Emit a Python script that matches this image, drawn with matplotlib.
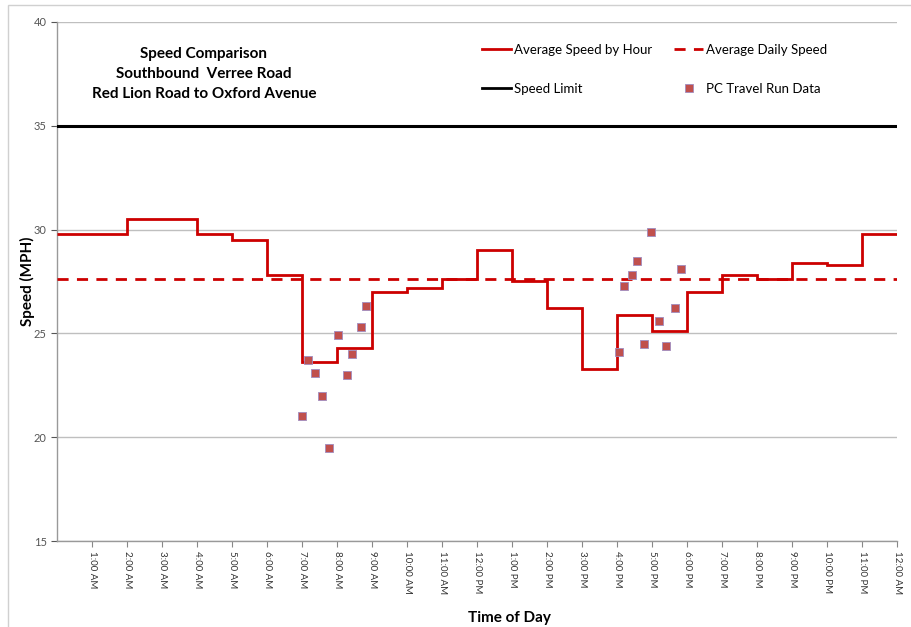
import matplotlib
matplotlib.use("Agg")
import matplotlib.pyplot as plt
from matplotlib.lines import Line2D
from matplotlib.patches import Rectangle

plt.rcParams['font.family'] = ['Lato', 'DejaVu Sans']

# Hourly average speeds (hour 0..23), step drawn over each hour
hours = list(range(25))
hourly_speed = [29.8, 29.8, 30.5, 30.5, 29.8, 29.5, 27.8, 23.6, 24.3, 27.0,
                27.2, 27.6, 29.0, 27.5, 26.2, 23.3, 25.9, 25.1, 27.0, 27.8,
                27.6, 28.4, 28.3, 29.8]
daily_avg = 27.6
speed_limit = 35

# PC travel run data (hour of day, speed)
run_hours = [7.0, 7.17, 7.37, 7.56, 7.75, 8.02, 8.27, 8.42, 8.67, 8.82,
             16.04, 16.19, 16.42, 16.57, 16.77, 16.96, 17.18, 17.38, 17.66, 17.82]
run_speeds = [21.0, 23.7, 23.1, 22.0, 19.5, 24.9, 23.0, 24.0, 25.3, 26.3,
              24.1, 27.3, 27.8, 28.5, 24.5, 29.9, 25.6, 24.4, 26.2, 28.1]

tick_labels = ["1:00 AM", "2:00 AM", "3:00 AM", "4:00 AM", "5:00 AM", "6:00 AM",
               "7:00 AM", "8:00 AM", "9:00 AM", "10:00 AM", "11:00 AM", "12:00 PM",
               "1:00 PM", "2:00 PM", "3:00 PM", "4:00 PM", "5:00 PM", "6:00 PM",
               "7:00 PM", "8:00 PM", "9:00 PM", "10:00 PM", "11:00 PM", "12:00 AM"]
tick_pos = list(range(1, 25))

W, H = 912, 627
fig = plt.figure(figsize=(W / 100, H / 100), dpi=100)
ax = fig.add_axes([57.3 / W, (H - 541) / H, (897.3 - 57.3) / W, (541 - 22) / H])

red = '#CC0000'
ax.stairs(hourly_speed, hours, color=red, lw=2.0, baseline=None, zorder=4)
ax.axhline(daily_avg, color=red, lw=2.0, ls=(0, (4, 3)), zorder=3)
ax.axhline(speed_limit, color='black', lw=2.2, zorder=3)
ax.scatter(run_hours, run_speeds, marker='s', s=32, color='#C0504D',
           edgecolors='#A08CC0', linewidths=0.6, zorder=5)

ax.set_xlim(0, 24)
ax.set_ylim(15, 40)
ax.set_yticks([15, 20, 25, 30, 35, 40])
ax.set_xticks(tick_pos)
ax.set_xticklabels(tick_labels, rotation=270, fontsize=7, color='#333333')
ax.tick_params(axis='y', labelsize=8, colors='#555555', length=4, direction='out')
ax.tick_params(axis='x', length=4, direction='out', colors='#888888', labelcolor='#333333')
ax.grid(axis='y', color='#BFBFBF', lw=1.0, zorder=0)
for s in ['top', 'right']:
    ax.spines[s].set_visible(False)
for s in ['left', 'bottom']:
    ax.spines[s].set_color('#999999')
    ax.spines[s].set_linewidth(1.0)

ax.set_ylabel('Speed (MPH)', fontsize=11, fontweight='bold')
ax.yaxis.set_label_coords(-(57.3 - 35) / 840, 0.5)
fig.text(509 / W, 1 - 618 / H, 'Time of Day', ha='center', va='center',
         fontsize=11, fontweight='bold')

fig.text(204 / W, 1 - 74 / H,
         'Speed Comparison\nSouthbound  Verree Road\nRed Lion Road to Oxford Avenue',
         ha='center', va='center', fontsize=11, fontweight='bold', linespacing=1.58)

handles = [
    Line2D([], [], color=red, lw=2.0),
    Line2D([], [], color='black', lw=2.0),
    Line2D([], [], color=red, lw=2.0, ls=(0, (4, 3))),
    Line2D([], [], color='#C0504D', marker='s', ls='none', markersize=6,
           markeredgecolor='#A08CC0', markeredgewidth=0.6),
]
labels = ['Average Speed by Hour', 'Speed Limit', 'Average Daily Speed', 'PC Travel Run Data']
fig.legend(handles, labels, ncol=2, frameon=False, fontsize=9.5,
           loc='upper left', bbox_to_anchor=(470 / W, 1 - 32 / H),
           labelspacing=2.05, columnspacing=1.7, handlelength=2.2, handletextpad=0.2)

fig.patches.append(Rectangle((8 / W, -0.1), 1.0, 1.1 - 5 / H, transform=fig.transFigure,
                             fill=False, edgecolor='#D0D0D0', lw=1.0, zorder=-1))

fig.savefig('out.png', dpi=100)
